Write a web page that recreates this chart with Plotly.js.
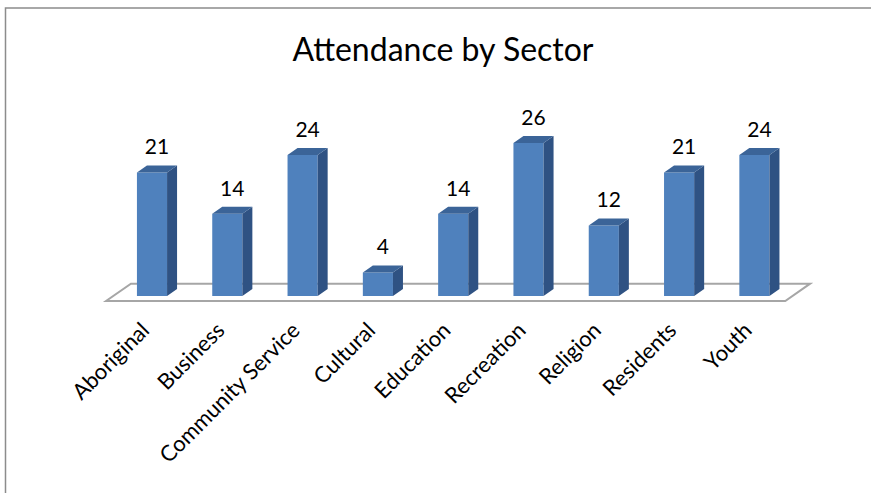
<!DOCTYPE html>
<html>
<head>
<meta charset="utf-8">
<script src="https://cdn.plot.ly/plotly-3.0.1.min.js"></script>
<style>html,body{margin:0;padding:0;background:#fff;}#chart{width:871px;height:493px;}</style>
</head>
<body>
<div id="chart"></div>
<script>
// ---- data ----
const categories = ["Aboriginal","Business","Community Service","Cultural","Education","Recreation","Religion","Residents","Youth"];
const attendance = [21, 14, 24, 4, 14, 26, 12, 21, 24];
const chartTitle = "Attendance by Sector";

// ---- styling / geometry ----
const W = 871, H = 493;
const FONT = "Lato, 'Open Sans', sans-serif";
const pxPerCat = 75.3, firstCatPx = 152;      // horizontal scale
const pxPerUnit = 5.88, zeroPx = 296;         // vertical scale
const axisPx = 312;                           // bottom of plotting domain
const barW = 0.4;
const depthX = 10 / pxPerCat, depthY = 7 / pxPerUnit;
const labelLift = 1.0;                        // data label gap (value units)
const tickShift = 0.12;                       // tick label offset (category units)

const xr0 = -firstCatPx / pxPerCat;
const xr1 = xr0 + W / pxPerCat;
const yr0 = -(axisPx - zeroPx) / pxPerUnit;
const yr1 = yr0 + axisPx / pxPerUnit;

const idx = categories.map((_, i) => i);

// side & top faces built from the data
const sideX = [], sideY = [], topX = [], topY = [];
idx.forEach(i => {
  const v = attendance[i], l = i - barW / 2, r = i + barW / 2;
  sideX.push(r, r + depthX, r + depthX, r, r, null);
  sideY.push(0, depthY, v + depthY, v, 0, null);
  topX.push(l, r, r + depthX, l + depthX, l, null);
  topY.push(v, v, v + depthY, v + depthY, v, null);
});

const traces = [
  {type: "bar", x: idx, y: attendance, width: barW,
   marker: {color: "#4F81BD", line: {width: 0}}, hoverinfo: "skip"},
  {type: "scatter", mode: "lines", x: sideX, y: sideY, fill: "toself",
   fillcolor: "#2F5283", line: {width: 0}, hoverinfo: "skip"},
  {type: "scatter", mode: "lines", x: topX, y: topY, fill: "toself",
   fillcolor: "#3B6498", line: {width: 0}, hoverinfo: "skip"},
  {type: "scatter", mode: "text", x: idx.map(i => i + depthX / 2),
   y: attendance.map(v => v + depthY + labelLift), text: attendance.map(String),
   textposition: "top center", textfont: {family: FONT, size: 21, color: "#000"},
   hoverinfo: "skip"}
];

// floor parallelogram
const n = categories.length;
const fl = -0.61, fr = n - 1 + 0.41, fdx = 0.33, fyF = -0.85, fyB = 2.1;
const floorPath = `M ${fl},${fyF} L ${fr},${fyF} L ${fr + fdx},${fyB} L ${fl + fdx},${fyB} Z`;

const layout = {
  width: W, height: H,
  margin: {l: 0, r: 0, t: 0, b: 0},
  paper_bgcolor: "#fff", plot_bgcolor: "rgba(0,0,0,0)",
  showlegend: false,
  title: {text: chartTitle, font: {family: FONT, size: 32, color: "#000"},
          x: 443 / W, xanchor: "center", y: 1 - 50 / H, yanchor: "middle"},
  xaxis: {domain: [0, 1], range: [xr0, xr1], tickvals: idx.map(i => i - tickShift), ticktext: categories,
          tickangle: -45, tickfont: {family: FONT, size: 22, color: "#000"},
          showgrid: false, zeroline: false, showline: false, ticks: "", fixedrange: true},
  yaxis: {domain: [1 - axisPx / H, 1], range: [yr0, yr1], visible: false, fixedrange: true},
  shapes: [
    {type: "path", xref: "x", yref: "y", path: floorPath, layer: "below",
     fillcolor: "#fff", line: {color: "#A6A6A6", width: 2}},
    {type: "rect", xref: "paper", yref: "paper", x0: 5.5 / W, x1: 1.1, y0: -0.1, y1: 1 - 8 / H,
     line: {color: "#8C8C8C", width: 1.5}, fillcolor: "rgba(0,0,0,0)", layer: "below"}
  ]
};

Plotly.newPlot("chart", traces, layout, {staticPlot: true});
</script>
</body>
</html>
